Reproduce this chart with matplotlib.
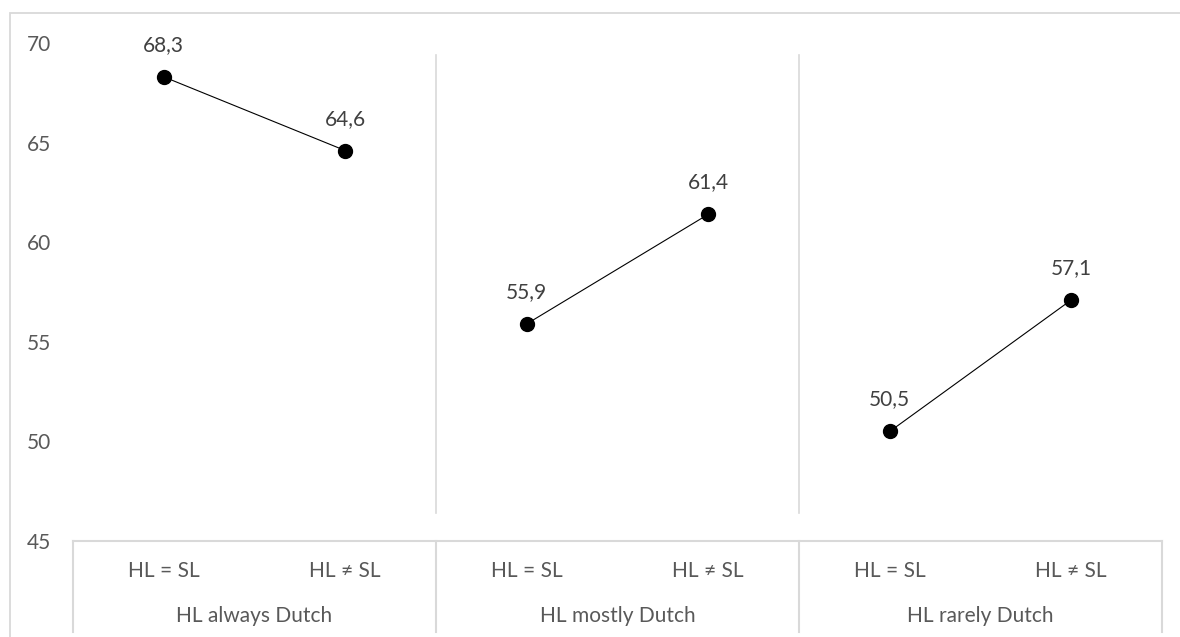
import matplotlib.pyplot as plt
from matplotlib.lines import Line2D
from matplotlib.patches import Rectangle

# data
groups = ['HL always Dutch', 'HL mostly Dutch', 'HL rarely Dutch']
conditions = ['HL = SL', 'HL \u2260 SL']
values = [[68.3, 64.6], [55.9, 61.4], [50.5, 57.1]]
yticks = [45, 50, 55, 60, 65, 70]

plt.rcParams['font.family'] = ['Lato', 'DejaVu Sans']
color_axis = '#595959'
color_label = '#404040'
color_line = '#d9d9d9'
fs = 15

W, H = 1180, 637
fig = plt.figure(figsize=(W / 100, H / 100), dpi=100, facecolor='white')
ax = fig.add_axes([73 / W, 1 - 541 / H, (1162 - 73) / W, (541 - 43) / H])

# figure border (cropped at right/bottom like the source)
fig.patches.append(Rectangle((10 / W, -0.1), 1.2, 1 - 13 / H + 0.1, transform=fig.transFigure,
                             fill=False, edgecolor=color_line, linewidth=1.3))

n = len(conditions)
for g, vals in enumerate(values):
    xs = [g * n + i for i in range(n)]
    ax.plot(xs, vals, color='black', linewidth=0.8, marker='o', markersize=10,
            markerfacecolor='black', markeredgecolor='black', zorder=3)
    for x, v in zip(xs, vals):
        ax.annotate(f"{v:.1f}".replace('.', ','), xy=(x, v), xytext=(0, 23), textcoords='offset points',
                    ha='center', va='center', fontsize=fs, color=color_label)

ax.set_xlim(-0.5, len(groups) * n - 0.5)
ax.set_ylim(yticks[0], yticks[-1])
ax.set_yticks(yticks)
ax.set_yticklabels([str(t) for t in yticks], fontsize=fs, color=color_axis)
ax.tick_params(axis='y', length=0, pad=16)
ax.set_xticks([])
for s in ax.spines.values():
    s.set_visible(False)

trans = ax.get_xaxis_transform()
# group dividers inside the plot
for g in range(1, len(groups)):
    xb = g * n - 0.5
    ax.add_line(Line2D([xb, xb], [0.056, 0.976], transform=trans, color=color_line, linewidth=1.2))

# multi-level category axis box
ax.add_line(Line2D([-0.5, len(groups) * n - 0.5], [0, 0], transform=trans, color=color_line,
                   linewidth=1.5, clip_on=False))
for g in range(len(groups) + 1):
    xb = g * n - 0.5
    ax.add_line(Line2D([xb, xb], [0, -0.183], transform=trans, color=color_line,
                       linewidth=1.5, clip_on=False))
for g, name in enumerate(groups):
    for i, c in enumerate(conditions):
        ax.text(g * n + i, -0.060, c, transform=trans, ha='center', va='center',
                fontsize=fs, color=color_axis)
    ax.text(g * n + (n - 1) / 2, -0.151, name, transform=trans, ha='center', va='center',
            fontsize=fs, color=color_axis)

fig.savefig('out.png', dpi=100, facecolor='white')
